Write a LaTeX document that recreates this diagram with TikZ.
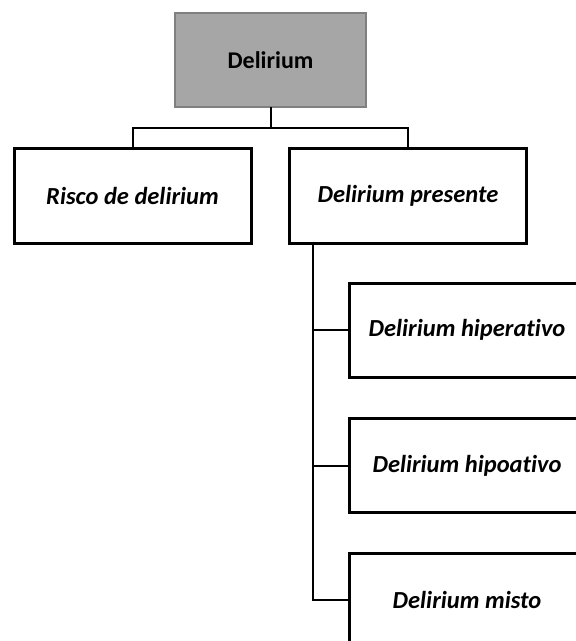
\documentclass[tikz,border=0pt]{standalone}
\usepackage{fontspec}
\setmainfont{Carlito}[Ligatures=NoCommon]
\begin{document}
\begin{tikzpicture}[x=1pt,y=-1pt,
  every node/.style={inner sep=0pt,outer sep=0pt,font=\fontsize{24.5}{28}\selectfont\bfseries\itshape},
  rootbox/.style={draw=black!50,fill=black!35,line width=2pt,minimum width=191pt,minimum height=94pt,font=\fontsize{24}{28}\selectfont\bfseries},
  catbox/.style={draw=black,fill=white,line width=3pt,minimum width=237pt,minimum height=95pt},
  subbox/.style={draw=black,fill=white,line width=3pt,minimum width=236pt,minimum height=94pt},
  link/.style={draw=black,line width=2pt}]
\useasboundingbox (0,0) rectangle (576,641);
\clip (0,0) rectangle (576,641);
% boxes
\node[rootbox] (root) at (270.5,60) {Delirium};
\node[catbox] (risco) at (132.5,195.5) {Risco de delirium};
\node[catbox] (pres) at (408,195.5) {Delirium presente};
\node[subbox] (hiper) at (467,330) {Delirium hiperativo};
\node[subbox] (hipo) at (467,465.5) {Delirium hipoativo};
\node[subbox] (misto) at (467,600) {Delirium misto};
% top level bus
\coordinate (bus) at (270,128);
\draw[link] (root.south) -- (root.south |- bus);
\draw[link] (risco.north) -- (risco.north |- bus) -- (pres.north |- bus) -- (pres.north);
% side bus under the second category
\coordinate (spine) at ([xshift=23pt]pres.south west);
\draw[link] (spine) -- (spine |- misto.west) -- (misto.west);
\draw[link] (spine |- hiper.west) -- (hiper.west);
\draw[link] (spine |- hipo.west) -- (hipo.west);
% redraw child borders above the connector ends
\node[subbox,fill=none] at (hiper) {};
\node[subbox,fill=none] at (hipo) {};
\node[subbox,fill=none] at (misto) {};
\end{tikzpicture}
\end{document}
